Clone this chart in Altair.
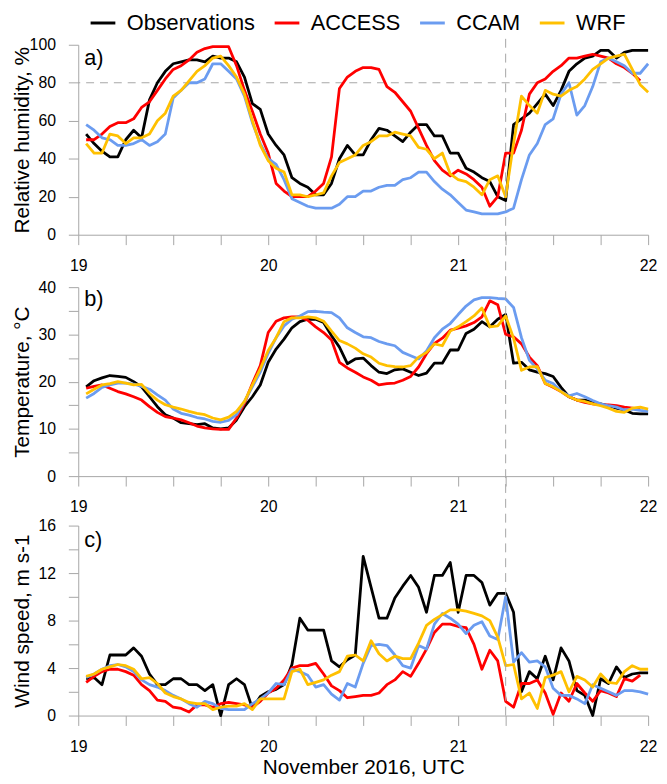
import altair as alt
import pandas as pd

FONT = "Liberation Sans"
hours = list(range(1, 73))
series_names = ["Observations", "ACCESS", "CCAM", "WRF"]
series_colors = ["#000000", "#ff0000", "#6b9cf0", "#ffc000"]
x_ticks = [19 + 0.25 * i for i in range(13)]

# ---- Relative humidity (%) ----
obs_rh = [53, 48, 44, 41, 41, 50, 55, 51, 71, 80, 86, 90, 91, 92, 92, 91, 94, 93, 93, 91, 83, 69, 66, 53,
          47, 42, 30, 27, 25, 21, 21, 27, 40, 47, 42, 42, 50, 56, 55, 52, 49, 54, 58, 58, 52, 52, 43, 43,
          35, 33, 30, 28, 20, 18, 58, 61, 64, 69, 74, 68, 76, 86, 90, 93, 94, 97, 97, 93, 96, 97, 97, 97]
acc_rh = [50, 50, 53, 57, 59, 59, 61, 67, 70, 76, 82, 87, 89, 92, 96, 98, 99, 99, 99, 89, 76, 65, 53, 43,
          27, 23, 20, 20, 20, 23, 27, 41, 77, 83, 86, 88, 88, 87, 78, 75, 70, 65, 56, 47, 39, 34, 31, 34,
          32, 29, 25, 15, 20, 43, 43, 55, 74, 80, 82, 86, 89, 93, 93, 94, 95, 94, 93, 90, 88, 85, 81]
ccam_rh = [58, 55, 51, 50, 47, 47, 48, 50, 47, 49, 53, 72, 76, 80, 80, 82, 90, 90, 86, 82, 73, 59, 48, 40,
           37, 29, 19, 17, 15, 14, 14, 14, 16, 20, 20, 23, 23, 25, 26, 26, 29, 30, 33, 33, 28, 24, 21, 17,
           13, 12, 11, 11, 11, 12, 14, 29, 42, 48, 58, 61, 74, 80, 63, 68, 78, 91, 93, 91, 89, 85, 85, 90]
wrf_rh = [48, 43, 43, 53, 52, 48, 51, 51, 53, 60, 64, 73, 76, 81, 86, 89, 93, 94, 89, 83, 74, 60, 47, 39,
          35, 33, 21, 21, 20, 21, 22, 31, 38, 40, 42, 47, 49, 52, 52, 54, 53, 52, 46, 45, 40, 43, 32, 29,
          28, 25, 21, 29, 31, 20, 48, 73, 68, 64, 76, 74, 73, 76, 78, 82, 87, 90, 93, 94, 95, 87, 79, 75]

# ---- Temperature (deg C) ----
obs_t = [18.9, 20.2, 20.8, 21.3, 21.1, 20.9, 20.0, 18.9, 16.8, 14.7, 13.0, 12.3, 11.3, 11.1, 10.9, 11.1,
         10.2, 10.0, 10.2, 11.9, 14.7, 16.8, 19.3, 24.1, 26.9, 29.0, 31.4, 32.7, 33.2, 33.2, 32.5, 29.7,
         27.3, 23.8, 24.8, 25.0, 23.4, 22.0, 21.7, 22.5, 22.7, 22.0, 21.3, 21.8, 23.9, 23.9, 26.7, 26.7,
         30.2, 31.1, 32.7, 31.6, 33.2, 34.2, 23.9, 24.1, 22.5, 22.0, 21.7, 21.1, 18.8, 16.8, 16.1, 16.1,
         15.6, 15.3, 14.9, 14.4, 14.0, 13.3, 13.2, 13.2]
acc_t = [18.6, 19.0, 19.3, 18.6, 17.9, 17.4, 16.8, 16.1, 14.7, 13.5, 12.6, 12.3, 11.9, 11.3, 10.6, 10.2,
         10.0, 9.9, 9.9, 12.3, 15.4, 19.6, 23.4, 30.4, 32.8, 33.5, 33.7, 33.7, 33.0, 31.6, 30.4, 28.8,
         24.1, 22.9, 22.0, 21.0, 20.3, 19.3, 19.6, 19.7, 20.3, 21.1, 23.1, 25.9, 28.1, 29.2, 30.9, 31.3,
         31.8, 32.5, 33.7, 37.1, 36.3, 30.0, 29.5, 28.0, 25.2, 23.4, 19.6, 18.8, 17.9, 16.8, 16.1, 15.6,
         15.3, 15.1, 15.1, 14.9, 14.6, 14.4, 14.2]
ccam_t = [16.5, 17.5, 18.8, 19.3, 19.7, 19.7, 19.5, 19.0, 18.4, 17.2, 16.1, 14.2, 13.3, 12.9, 12.4, 12.1,
          11.6, 11.4, 11.8, 13.0, 15.8, 18.9, 22.0, 26.0, 29.3, 31.8, 33.2, 33.9, 34.8, 34.9, 34.7, 34.6,
          33.5, 31.4, 30.4, 29.5, 29.3, 28.5, 28.0, 27.6, 26.2, 25.5, 24.8, 26.5, 29.3, 31.1, 32.3, 34.2,
          36.0, 37.3, 37.8, 37.8, 37.6, 37.5, 35.7, 29.3, 24.5, 22.7, 20.3, 19.6, 17.9, 17.0, 17.5, 16.8,
          16.0, 15.3, 14.9, 14.6, 14.0, 14.2, 13.9, 13.7]
wrf_t = [17.4, 18.4, 19.3, 19.6, 20.0, 19.7, 19.3, 19.4, 17.5, 16.1, 15.1, 14.6, 14.2, 13.7, 13.3, 13.0,
         12.3, 11.9, 12.5, 13.7, 15.8, 19.3, 22.7, 26.6, 29.3, 32.7, 33.5, 33.5, 33.7, 33.5, 32.8, 30.7,
         28.7, 28.0, 27.1, 25.9, 25.2, 23.9, 23.4, 23.2, 23.1, 23.4, 25.2, 26.2, 28.0, 27.6, 30.7, 31.6,
         32.7, 33.9, 35.6, 31.6, 31.8, 33.9, 29.2, 22.4, 23.1, 23.2, 19.6, 18.9, 17.9, 16.8, 16.1, 15.8,
         15.3, 14.9, 14.4, 13.7, 13.5, 14.4, 14.6, 14.2]

# ---- Wind speed (m/s) ----
obs_w = [3.1, 3.2, 2.6, 5.1, 5.1, 5.1, 5.7, 5.0, 3.5, 2.6, 2.6, 3.1, 3.1, 2.6, 2.6, 2.1, 2.6, 0.0, 2.6,
         3.1, 2.6, 0.6, 1.6, 2.0, 2.2, 2.6, 4.3, 8.2, 7.2, 7.2, 7.2, 4.6, 4.1, 4.7, 5.1, 13.4, 10.8, 8.2,
         8.2, 9.9, 10.9, 11.8, 10.8, 8.7, 11.8, 11.8, 12.9, 8.7, 11.8, 11.8, 11.2, 9.3, 10.3, 10.3, 8.7,
         2.0, 3.7, 3.1, 5.0, 3.0, 5.7, 4.6, 2.1, 1.7, 0.0, 3.1, 2.7, 4.1, 3.2, 3.5, 3.6, 3.6]
acc_w = [2.8, 3.3, 3.7, 3.9, 3.9, 3.7, 3.4, 2.6, 2.1, 1.3, 1.2, 0.7, 0.6, 0.3, 0.9, 0.9, 0.7, 1.0, 1.1,
         1.0, 0.9, 0.7, 1.2, 1.9, 2.3, 3.0, 4.0, 4.2, 4.2, 4.4, 3.5, 2.5, 2.1, 1.5, 1.6, 1.7, 1.7, 1.9,
         2.6, 3.0, 3.7, 3.3, 4.4, 5.6, 7.0, 7.7, 7.7, 7.5, 7.4, 6.0, 3.9, 5.5, 4.6, 1.2, 0.7, 2.7, 2.7,
         3.0, 1.9, 0.1, 1.9, 1.2, 2.7, 1.9, 1.2, 2.1, 1.9, 1.6, 3.1, 2.9, 3.4]
ccam_w = [3.2, 3.5, 3.9, 4.2, 4.3, 4.1, 3.7, 3.0, 2.6, 2.4, 2.1, 1.7, 1.4, 1.0, 0.7, 1.2, 1.0, 0.6, 0.5,
          0.5, 0.5, 1.0, 1.4, 1.9, 2.7, 2.6, 3.9, 3.7, 3.4, 2.4, 2.6, 1.8, 1.3, 2.7, 2.4, 4.4, 5.9, 6.0,
          5.9, 5.1, 4.2, 4.0, 5.9, 5.6, 7.7, 8.6, 8.2, 7.7, 6.9, 7.6, 7.9, 6.7, 6.4, 10.0, 4.5, 5.3, 4.5,
          4.6, 4.1, 2.3, 1.7, 1.7, 1.4, 1.0, 2.6, 2.3, 2.0, 1.7, 2.1, 2.1, 2.0, 1.8]
wrf_w = [3.3, 3.5, 3.9, 4.1, 4.3, 4.2, 3.9, 3.1, 3.2, 2.7, 1.9, 1.6, 1.4, 1.1, 1.0, 1.0, 0.5, 0.7, 0.8,
         0.8, 1.0, 0.5, 1.4, 1.4, 1.4, 1.4, 3.7, 3.9, 2.6, 2.8, 3.0, 3.4, 3.7, 5.0, 5.1, 4.6, 6.3, 5.2,
         4.6, 5.0, 4.8, 4.8, 6.1, 7.6, 8.1, 8.5, 8.9, 8.9, 8.8, 8.6, 8.4, 8.0, 6.6, 4.2, 4.3, 1.4, 1.9,
         0.6, 3.2, 3.4, 3.7, 2.0, 3.3, 3.0, 2.4, 3.5, 2.8, 2.7, 3.7, 4.2, 3.9, 3.9]

panel_labels = ["a)", "b)", "c)"]
y_titles = ["Relative humidity, %", "Temperature, °C", "Wind speed, m s-1"]
x_title = "November 2016, UTC"


def long_df(lists):
    rows = []
    for name, vals in zip(series_names, lists):
        for h, v in zip(hours, vals):
            rows.append({"day": 19 + h / 24, "value": v, "series": name})
    return pd.DataFrame(rows)


GRAY = "#a6a6a6"
AX = dict(domainColor=GRAY, tickColor=GRAY, domainWidth=1, tickWidth=1, tickSize=10,
          grid=False, labelFont=FONT, labelFontSize=16, labelColor="#000000", labelPadding=13,
          labelOverlap=False, labelFlush=False, labelBound=False,
          titleFont=FONT, titleFontSize=21, titleFontWeight="normal", titleColor="#000000")

PLOT_H = 678
color_enc = alt.Color(
    "series:N",
    scale=alt.Scale(domain=series_names, range=series_colors),
    legend=alt.Legend(title=None, orient="none", legendX=11, legendY=-36, direction="horizontal",
                      symbolType="stroke", symbolSize=625, symbolStrokeWidth=3,
                      labelFont=FONT, labelFontSize=22, labelColor="#000000", labelOffset=10,
                      columnPadding=13, padding=0, labelLimit=0),
)


def x_enc(axis_y, with_title=False):
    kw = dict(AX, values=x_ticks, orient="bottom", offset=axis_y - PLOT_H,
              labelExpr="datum.value % 1 === 0 ? format(datum.value, 'd') : ''")
    if with_title:
        kw.update(titleY=59, titleBaseline="alphabetic", titleAlign="center")
    return alt.X("day:Q", scale=alt.Scale(domain=[19, 22], nice=False, zero=False),
                 axis=alt.Axis(**kw), title=x_title if with_title else None)


def y_enc(domain, rng, ticks, step, title):
    kw = dict(AX, values=ticks, orient="left", titleAngle=270, titleBaseline="bottom",
              titleAlign="center", titleX=-46,
              labelExpr="datum.value %% %s === 0 ? datum.label : ''" % step)
    return alt.Y("value:Q", scale=alt.Scale(domain=domain, range=rng, nice=False, zero=False),
                  axis=alt.Axis(**kw), title=title)


def panel(series_lists, xe, ye, label, label_y, hline=None):
    layers = []
    if hline is not None:
        layers.append(alt.Chart(pd.DataFrame({"value": [hline]})).mark_rule(
            color=GRAY, strokeWidth=1, strokeDash=[8, 6]).encode(y=ye))
    layers.append(alt.Chart(long_df(series_lists)).mark_line(
        strokeWidth=2.8, strokeJoin="round").encode(x=xe, y=ye, color=color_enc))
    layers.append(alt.Chart(pd.DataFrame({"day": [19.031], "value": [label_y], "txt": [label]})).mark_text(
        align="left", baseline="middle", font=FONT, fontSize=22, color="#000000").encode(
        x=xe, y=ye, text="txt:N"))
    return alt.layer(*layers)


pa = panel([obs_rh, acc_rh, ccam_rh, wrf_rh], x_enc(192),
           y_enc([0, 100], [192, 0], [0, 20, 40, 60, 80, 100], 20, y_titles[0]),
           panel_labels[0], 93, hline=80)
pb = panel([obs_t, acc_t, ccam_t, wrf_t], x_enc(436),
           y_enc([0, 40], [436, 245], [0, 5, 10, 15, 20, 25, 30, 35, 40], 10, y_titles[1]),
           panel_labels[1], 37.5)
pc = panel([obs_w, acc_w, ccam_w, wrf_w], x_enc(678, True),
           y_enc([0, 16], [678, 486], [0, 2, 4, 6, 8, 10, 12, 14, 16], 4, y_titles[2]),
           panel_labels[2], 14.8)

vrule = alt.Chart(pd.DataFrame({"day": [21.25]})).mark_rule(
    color=GRAY, strokeWidth=1, strokeDash=[9, 6]).encode(
    x=alt.X("day:Q", scale=alt.Scale(domain=[19, 22], nice=False, zero=False), axis=None),
    y=alt.value(-6), y2=alt.value(PLOT_H))

chart = alt.layer(pa, pb, pc, vrule).resolve_scale(x="independent", y="independent").properties(
    width=576, height=PLOT_H,
    padding={"left": 71, "top": 33, "right": 11, "bottom": 63},
    autosize=alt.AutoSizeParams(type="none"),
).configure_view(stroke=None)

chart.save("out.html", embed_options={"renderer": "svg", "actions": False})
